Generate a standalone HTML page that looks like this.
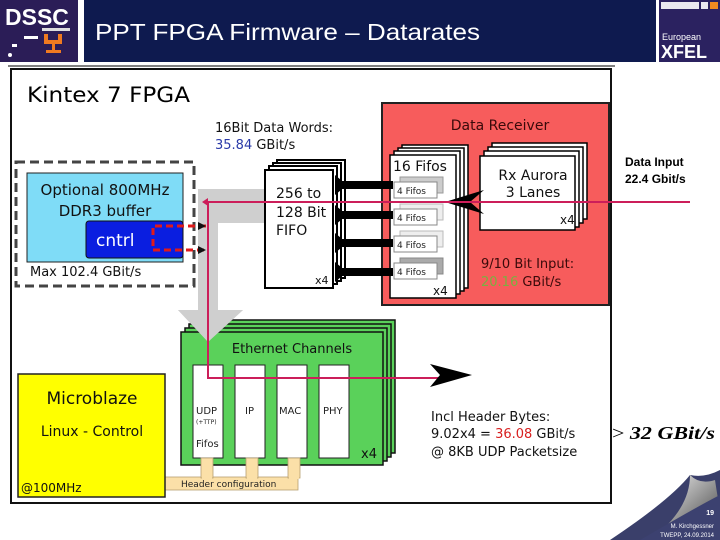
<!DOCTYPE html>
<html><head><meta charset="utf-8"><style>
html,body{margin:0;padding:0;background:#fff;}
svg{display:block;font-family:"DejaVu Sans","Liberation Sans",sans-serif;}
</style></head><body>
<svg width="720" height="540" viewBox="0 0 720 540" xmlns="http://www.w3.org/2000/svg">
<defs>
<linearGradient id="curl" x1="0" y1="0" x2="1" y2="1">
<stop offset="0" stop-color="#ffffff"/><stop offset="0.5" stop-color="#9a9a9a"/><stop offset="1" stop-color="#333"/>
</linearGradient>
</defs>
<!-- header -->
<rect x="0" y="0" width="720" height="62" fill="#fff"/>
<rect x="0" y="0" width="78" height="62" fill="#2b1d57"/>
<text x="5" y="25" font-family="Liberation Sans" font-weight="bold" font-size="23" fill="#fff">DSSC</text>
<rect x="42" y="28" width="28" height="3" fill="#ddd"/>
<rect x="24" y="36" width="14" height="3" fill="#fff"/>
<rect x="12" y="44" width="5" height="3" fill="#fff"/>
<circle cx="10" cy="55" r="2" fill="#fff"/>
<path d="M44 34 h4 v6 h10 v-6 h4 v10 h-7 v6 h6 v3 h-15 v-3 h6 v-6 h-8z" fill="#f07a20"/>
<rect x="84" y="0" width="572" height="62" fill="#0e1a4f"/>
<text x="95" y="40" font-family="Liberation Sans" font-size="23" fill="#fff" textLength="385" lengthAdjust="spacingAndGlyphs">PPT FPGA Firmware – Datarates</text>
<rect x="659" y="0" width="61" height="62" fill="#2b2260"/>
<rect x="661" y="2" width="38" height="7" fill="#fff" opacity="0.9"/>
<rect x="701" y="2" width="7" height="7" fill="#fff" opacity="0.9"/>
<rect x="710" y="2" width="8" height="7" fill="#f08a20"/>
<text x="662" y="40" font-family="Liberation Sans" font-size="9" fill="#fff">European</text>
<text x="661" y="58" font-family="Liberation Sans" font-weight="bold" font-size="18" fill="#fff">XFEL</text>
<line x1="8" y1="66" x2="615" y2="66" stroke="#000" stroke-width="1"/>

<!-- main frame -->
<rect x="11" y="69" width="600" height="434" fill="#fff" stroke="#111" stroke-width="2"/>
<text x="27" y="102" font-size="21" fill="#000" textLength="163" lengthAdjust="spacingAndGlyphs">Kintex 7 FPGA</text>

<!-- DDR dashed -->
<rect x="16" y="162" width="178" height="124" fill="none" stroke="#444" stroke-width="3" stroke-dasharray="9,5"/>
<rect x="27" y="173" width="156" height="89" fill="#7fdcf7" stroke="#222" stroke-width="1"/>
<text x="105" y="195" font-size="15" text-anchor="middle" fill="#111">Optional 800MHz</text>
<text x="105" y="216" font-size="15" text-anchor="middle" fill="#111">DDR3 buffer</text>
<rect x="86" y="221" width="97" height="37" rx="3" fill="#0a1ee0" stroke="#111" stroke-width="1"/>
<text x="96" y="246" font-size="17" fill="#fff">cntrl</text>
<text x="30" y="276" font-size="13" fill="#111">Max 102.4 GBit/s</text>

<!-- gray arrow -->
<path d="M198 189 H265 V223 H218 V310 H243 L208 342 L178 310 H198 Z" fill="#cfcfcf"/>
<g stroke="#e01a1a" stroke-width="3" fill="none" stroke-dasharray="7,4">
<path d="M206 226 H153 V250 H204"/>
</g>
<path d="M198 222 l8 4 l-8 4z M198 246 l8 4 l-8 4z" fill="#111"/>

<!-- FIFO stack -->
<rect x="277" y="160" width="68" height="118" fill="#fff" stroke="#000" stroke-width="2"/>
<rect x="273" y="163" width="68" height="118" fill="#fff" stroke="#000" stroke-width="2"/>
<rect x="269" y="166" width="68" height="118" fill="#fff" stroke="#000" stroke-width="2"/>
<rect x="265" y="170" width="68" height="118" fill="#fff" stroke="#000" stroke-width="2"/>
<text x="276" y="198" font-size="14" fill="#111">256 to</text>
<text x="276" y="217" font-size="14" fill="#111">128 Bit</text>
<text x="276" y="235" font-size="14" fill="#111">FIFO</text>
<text x="315" y="284" font-size="11" fill="#111">x4</text>
<text x="215" y="132" font-size="13" fill="#111">16Bit Data Words:</text>
<text x="215" y="149" font-size="13" fill="#2a3aa8">35.84 <tspan fill="#111">GBit/s</tspan></text>

<!-- data receiver -->
<rect x="382" y="103" width="227" height="202" fill="#f75c5c" stroke="#222" stroke-width="2"/>
<text x="500" y="130" font-size="14" text-anchor="middle" fill="#3a0a0a">Data Receiver</text>
<rect x="402" y="145" width="66" height="143" fill="#fff" stroke="#000" stroke-width="1.5"/>
<rect x="398" y="148" width="66" height="143" fill="#fff" stroke="#000" stroke-width="1.5"/>
<rect x="394" y="151" width="66" height="143" fill="#fff" stroke="#000" stroke-width="1.5"/>
<rect x="390" y="155" width="66" height="143" fill="#fff" stroke="#000" stroke-width="1.5"/>
<text x="393" y="171" font-size="14" fill="#111">16 Fifos</text>
<g font-size="9" fill="#222">
<g><rect x="400" y="177" width="43" height="16" fill="#ccc" stroke="#999"/><rect x="394" y="182" width="43" height="16" fill="#fff" stroke="#888"/><text x="397" y="194">4 Fifos</text></g>
<g><rect x="400" y="204" width="43" height="16" fill="#eee" stroke="#bbb"/><rect x="394" y="209" width="43" height="16" fill="#fff" stroke="#888"/><text x="397" y="221">4 Fifos</text></g>
<g><rect x="400" y="231" width="43" height="16" fill="#eee" stroke="#bbb"/><rect x="394" y="236" width="43" height="16" fill="#fff" stroke="#888"/><text x="397" y="248">4 Fifos</text></g>
<g><rect x="400" y="258" width="43" height="16" fill="#aaa" stroke="#888"/><rect x="394" y="263" width="43" height="16" fill="#fff" stroke="#888"/><text x="397" y="275">4 Fifos</text></g>
</g>
<text x="433" y="295" font-size="12" fill="#111">x4</text>
<rect x="492" y="143" width="95" height="76" fill="#fff" stroke="#000" stroke-width="1.5"/>
<rect x="488" y="147" width="95" height="76" fill="#fff" stroke="#000" stroke-width="1.5"/>
<rect x="484" y="151" width="95" height="76" fill="#fff" stroke="#000" stroke-width="1.5"/>
<rect x="480" y="156" width="95" height="74" fill="#fff" stroke="#000" stroke-width="1.5"/>
<text x="533" y="180" font-size="14" text-anchor="middle" fill="#111">Rx Aurora</text>
<text x="533" y="197" font-size="14" text-anchor="middle" fill="#111">3 Lanes</text>
<text x="560" y="224" font-size="12" fill="#111">x4</text>
<text x="481" y="268" font-size="13" fill="#3a0a0a">9/10 Bit Input:</text>
<text x="481" y="286" font-size="13" fill="#7ab040">20.16 <tspan fill="#3a0a0a">GBit/s</tspan></text>
<path d="M484 190 L445 202 L484 214 L470 202 Z" fill="#000"/>

<g fill="#000">
<rect x="335" y="181" width="58" height="8"/>
<rect x="335" y="211" width="58" height="8"/>
<rect x="335" y="239" width="58" height="8"/>
<rect x="335" y="268" width="58" height="8"/>
<path d="M335 175 l12 10 l-12 10z M335 205 l12 10 l-12 10z M335 233 l12 10 l-12 10z M335 262 l12 10 l-12 10z"/>
</g>

<!-- ethernet -->
<rect x="193" y="320" width="202" height="133" fill="#5ad15a" stroke="#111" stroke-width="1.5"/>
<rect x="189" y="324" width="202" height="133" fill="#5ad15a" stroke="#111" stroke-width="1.5"/>
<rect x="185" y="328" width="202" height="133" fill="#5ad15a" stroke="#111" stroke-width="1.5"/>
<rect x="181" y="332" width="202" height="133" fill="#5ad15a" stroke="#111" stroke-width="1.5"/>
<text x="292" y="353" font-size="13" text-anchor="middle" fill="#111">Ethernet Channels</text>
<g fill="#fff" stroke="#222" stroke-width="1">
<rect x="193" y="365" width="30" height="93"/>
<rect x="235" y="365" width="30" height="93"/>
<rect x="277" y="365" width="30" height="93"/>
<rect x="319" y="365" width="30" height="93"/>
</g>
<g font-size="10" fill="#222">
<text x="196" y="414">UDP</text>
<text x="196" y="424" font-size="6">(+TTP)</text>
<text x="196" y="447">Fifos</text>
<text x="245" y="414">IP</text>
<text x="279" y="414">MAC</text>
<text x="323" y="414">PHY</text>
</g>
<text x="361" y="458" font-size="13" fill="#111">x4</text>
<path d="M178 310 H243 L208 342 Z" fill="#cfcfcf"/>

<g fill="#fbe0a8" stroke="#b8a070" stroke-width="0.8">
<rect x="165" y="477" width="133" height="13"/>
<rect x="201" y="458" width="12" height="20"/>
<rect x="246" y="458" width="12" height="20"/>
<rect x="288" y="458" width="12" height="20"/>
</g>
<rect x="202" y="476" width="10" height="3" fill="#fbe0a8"/>
<rect x="247" y="476" width="10" height="3" fill="#fbe0a8"/>
<rect x="289" y="476" width="10" height="3" fill="#fbe0a8"/>
<text x="181" y="487" font-size="9" fill="#222">Header configuration</text>

<rect x="18" y="374" width="147" height="123" fill="#ffff00" stroke="#222" stroke-width="1.5"/>
<text x="92" y="404" font-size="17" text-anchor="middle" fill="#111">Microblaze</text>
<text x="92" y="436" font-size="14" text-anchor="middle" fill="#111">Linux - Control</text>
<text x="21" y="492" font-size="12" fill="#111">@100MHz</text>

<polyline points="690,202 208,202 208,378 440,378" fill="none" stroke="#cc1e5a" stroke-width="2"/>
<path d="M208 198 l-6 4 l6 4z" fill="#cc1e5a"/>
<path d="M430 364 L472 375 L430 387 L440 375 Z" fill="#000"/>

<text x="625" y="166" font-family="Liberation Sans" font-weight="bold" font-size="12" fill="#000">Data Input</text>
<text x="625" y="183" font-family="Liberation Sans" font-weight="bold" font-size="12" fill="#000">22.4 Gbit/s</text>

<text x="431" y="421" font-size="13" fill="#111">Incl Header Bytes:</text>
<text x="431" y="438" font-size="13" fill="#111">9.02x4 = <tspan fill="#d82020">36.08</tspan> GBit/s</text>
<text x="431" y="456" font-size="13" fill="#111">@ 8KB UDP Packetsize</text>
<text x="612" y="439" font-family="Liberation Serif" font-size="18" fill="#000" textLength="103" lengthAdjust="spacingAndGlyphs">&gt; <tspan font-style="italic" font-weight="bold">32 GBit/s</tspan></text>

<path d="M610 540 Q670 500 690 475 Q705 478 720 470 V540 Z" fill="#3a3f6a"/>
<path d="M690 475 Q700 485 715 480 Q718 500 720 510 V540 H650 Q690 510 690 475 Z" fill="url(#curl)"/>
<path d="M640 540 Q700 505 720 495 V540 Z" fill="#3c4170"/>
<text x="714" y="515" font-family="Liberation Sans" font-size="7" font-weight="bold" fill="#fff" text-anchor="end">19</text>
<text x="714" y="528" font-family="Liberation Sans" font-size="6" fill="#fff" text-anchor="end">M. Kirchgessner</text>
<text x="714" y="537" font-family="Liberation Sans" font-size="6" fill="#fff" text-anchor="end">TWEPP, 24.09.2014</text>
</svg>
</body></html>
